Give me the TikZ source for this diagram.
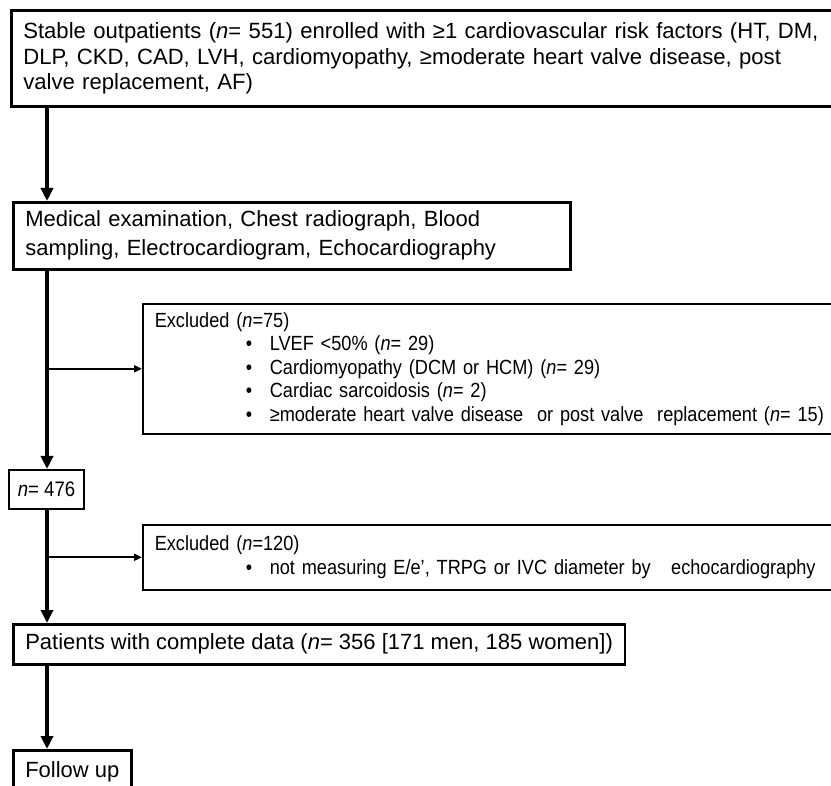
\documentclass[tikz,border=0pt]{standalone}
\usepackage{fontspec}
\setmainfont{Liberation Sans}
\newfontfamily\narrowfont[FakeStretch=0.886]{Liberation Sans}
\usetikzlibrary{arrows.meta}
\tikzset{box/.style = {draw, line width=2.6pt, anchor=north west, align=left, inner xsep=12pt, inner ysep=0pt}}
\tikzset{exbox/.style = {box, line width=1.6pt, font=\narrowfont\fontsize{20.5}{23.5}\selectfont}}
\tikzset{edge/.style = {-{Triangle[length=13pt,width=12pt]}, line width=3.6pt}}
\tikzset{side/.style = {-{Triangle[length=8pt,width=7pt]}, line width=1.8pt}}
\newcommand{\bul}[1]{\hspace*{91pt}\makebox[24pt][l]{•}#1}

\begin{document}
\begin{tikzpicture}[x=1pt, y=-1pt]
          \useasboundingbox (0,0) rectangle (831,786);
          \clip (0,0) rectangle (831,786);
          \coordinate (spine) at (47,0);

          \node[box, text width=830pt, minimum height=96pt, font=\fontsize{22.1}{25.5}\selectfont] (stable) at (10,9)
            {Stable outpatients (\textit{n}= 551) enrolled with ≥1 cardiovascular risk factors (HT, DM,\\
             DLP, CKD, CAD, LVH, cardiomyopathy, ≥moderate heart valve disease, post\\
             valve replacement, AF)};
          \node[box, text width=533pt, minimum height=67pt, font=\fontsize{22}{29}\selectfont] (exam) at (12,201)
            {Medical examination,\ Chest radiograph, Blood\\
             sampling, Electrocardiogram, Echocardiography};
          \node[exbox, text width=700pt, minimum height=130pt] (excl1) at (142,303)
            {Excluded (\textit{n}=75)\\
             \bul{LVEF <50\% (\textit{n}= 29)}\\
             \bul{Cardiomyopathy (DCM or HCM) (\textit{n}= 29)}\\
             \bul{Cardiac sarcoidosis (\textit{n}= 2)}\\
             \bul{≥moderate heart valve disease\ \ or post valve\ \ replacement (\textit{n}= 15)}};
          \node[box, line width=1.6pt, inner xsep=9pt, minimum height=39pt, font=\narrowfont\fontsize{21}{24}\selectfont] (n476) at (8,469)
            {\textit{n}= 476};
          \node[exbox, text width=700pt, minimum height=65pt] (excl2) at (142,524)
            {Excluded (\textit{n}=120)\\
             \bul{not measuring E/e’, TRPG or IVC diameter by\ \ \ echocardiography}};
          \node[box, minimum height=40pt, font=\fontsize{22}{26}\selectfont] (complete) at (12,623)
            {Patients with complete data (\textit{n}= 356 [171 men, 185 women])};
          \node[box, minimum height=44pt, font=\fontsize{22}{26}\selectfont] (follow) at (12,749)
            {Follow up};

          \draw[edge] (stable.south -| spine) -- (exam.north -| spine);
          \draw[edge] (exam.south -| spine) -- (n476.north -| spine);
          \draw[side] (excl1.west -| spine) -- (excl1.west);
          \draw[edge] (n476.south -| spine) -- (complete.north -| spine);
          \draw[side] (excl2.west -| spine) -- (excl2.west);
          \draw[edge] (complete.south -| spine) -- (follow.north -| spine);
        \end{tikzpicture}
\end{document}
